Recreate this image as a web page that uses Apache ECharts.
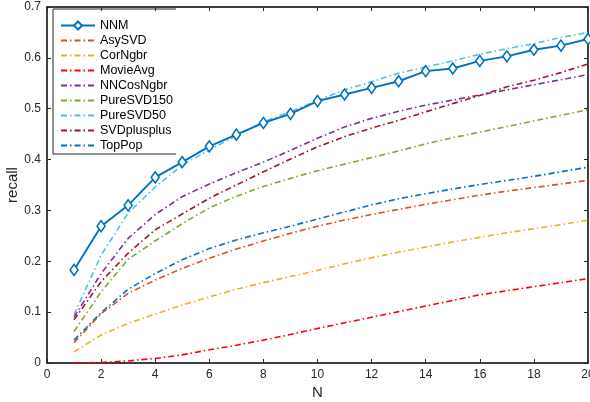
<!DOCTYPE html>
<html>
<head>
<meta charset="utf-8">
<script src="https://cdn.jsdelivr.net/npm/echarts@6/dist/echarts.min.js"></script>
<style>
  html, body { margin: 0; padding: 0; background: #fff; }
  #chart { width: 590px; height: 402px; }
</style>
</head>
<body>
<div id="chart"></div>
<script>
var N = [1, 2, 3, 4, 5, 6, 7, 8, 9, 10, 11, 12, 13, 14, 15, 16, 17, 18, 19, 20];

var nnm         = [0.183, 0.269, 0.310, 0.365, 0.395, 0.426, 0.449, 0.472, 0.490, 0.515, 0.528, 0.541, 0.554, 0.574, 0.579, 0.594, 0.603, 0.616, 0.624, 0.637];
var asySVD      = [0.040, 0.097, 0.137, 0.163, 0.186, 0.206, 0.224, 0.240, 0.255, 0.269, 0.281, 0.292, 0.302, 0.312, 0.321, 0.330, 0.338, 0.345, 0.352, 0.359];
var corNgbr     = [0.022, 0.055, 0.078, 0.096, 0.114, 0.130, 0.145, 0.158, 0.170, 0.182, 0.195, 0.207, 0.218, 0.228, 0.238, 0.247, 0.256, 0.264, 0.272, 0.281];
var movieAvg    = [0.000, 0.001, 0.004, 0.009, 0.016, 0.026, 0.035, 0.045, 0.056, 0.068, 0.079, 0.090, 0.101, 0.112, 0.123, 0.134, 0.142, 0.150, 0.158, 0.166];
var nnCosNgbr   = [0.090, 0.176, 0.245, 0.292, 0.327, 0.352, 0.374, 0.395, 0.418, 0.442, 0.464, 0.481, 0.495, 0.507, 0.517, 0.527, 0.537, 0.547, 0.557, 0.567];
var pureSVD150  = [0.062, 0.140, 0.204, 0.240, 0.274, 0.305, 0.328, 0.347, 0.363, 0.378, 0.391, 0.404, 0.417, 0.431, 0.443, 0.454, 0.465, 0.476, 0.487, 0.498];
var pureSVD50   = [0.095, 0.212, 0.295, 0.346, 0.389, 0.419, 0.447, 0.474, 0.494, 0.516, 0.537, 0.553, 0.570, 0.582, 0.594, 0.607, 0.618, 0.628, 0.640, 0.650];
var svdPlusPlus = [0.085, 0.160, 0.216, 0.262, 0.293, 0.324, 0.350, 0.376, 0.401, 0.425, 0.445, 0.462, 0.477, 0.494, 0.510, 0.526, 0.543, 0.556, 0.571, 0.588];
var topPop      = [0.045, 0.099, 0.145, 0.176, 0.203, 0.225, 0.242, 0.256, 0.269, 0.283, 0.297, 0.311, 0.323, 0.333, 0.342, 0.351, 0.359, 0.367, 0.376, 0.385];

var xTicks = [0, 2, 4, 6, 8, 10, 12, 14, 16, 18, 20];
var yTicks = [0, 0.1, 0.2, 0.3, 0.4, 0.5, 0.6, 0.7];

var names = ['NNM', 'AsySVD', 'CorNgbr', 'MovieAvg', 'NNCosNgbr', 'PureSVD150', 'PureSVD50', 'SVDplusplus', 'TopPop'];
var values = [nnm, asySVD, corNgbr, movieAvg, nnCosNgbr, pureSVD150, pureSVD50, svdPlusPlus, topPop];
var colors = ['#0072BD', '#D95319', '#EDB120', '#FF0000', '#7E2F8E', '#77AC30', '#4DBEEE', '#A2142F', '#0072BD'];

var dashDot = [6, 3, 1.5, 3];
var font = 'Liberation Sans, Arial, sans-serif';

function pairs(arr) {
  return N.map(function (n, i) { return [n, arr[i]]; });
}

var series = names.map(function (name, i) {
  var s = {
    name: name,
    type: 'line',
    data: pairs(values[i]),
    z: 10 - i,
    lineStyle: { color: colors[i], width: 1.6, type: dashDot },
    itemStyle: { color: colors[i] },
    showSymbol: false,
    symbol: 'none',
    animation: false
  };
  if (i == 0) {
    s.z = 20;
    s.showSymbol = true;
    s.symbol = 'diamond';
    s.symbolSize = [8, 11];
    s.lineStyle = { color: colors[0], width: 1.9, type: 'solid' };
    s.itemStyle = { color: '#fff', borderColor: colors[0], borderWidth: 1.6 };
  }
  return s;
});

// legend entries: only NNM keeps its marker
var legendData = names.map(function (name, i) {
  if (i == 0) return { name: name };
  return { name: name, itemStyle: { opacity: 0 } };
});

var axisCommon = {
  type: 'value',
  axisLine: { show: true, onZero: false, lineStyle: { color: '#000', width: 1.5 } },
  axisTick: { show: true, inside: true, length: 4, lineStyle: { color: '#262626' } },
  splitLine: { show: false }
};

var dom = document.getElementById('chart');
var myChart = echarts.init(dom, null, { renderer: 'canvas' });

option = {
  animation: false,
  backgroundColor: '#fff',
  textStyle: { fontFamily: font },
  grid: { left: 47, right: 2, top: 7, bottom: 39, containLabel: false, outerBoundsMode: 'none' },
  legend: {
    data: legendData,
    orient: 'vertical',
    left: 60,
    top: 19,
    padding: 0,
    itemWidth: 34,
    itemHeight: 10,
    itemGap: 2,
    textStyle: { fontSize: 12.5, color: '#000', fontFamily: font }
  },
  xAxis: [
    Object.assign({}, axisCommon, {
      min: xTicks[0], max: xTicks[xTicks.length - 1], interval: 2,
      name: 'N', nameLocation: 'middle', nameGap: 22, nameMoveOverlap: false,
      nameTextStyle: { fontSize: 15, color: '#262626', fontFamily: font },
      axisLabel: { fontSize: 12, color: '#262626', margin: 6, fontFamily: font }
    }),
    Object.assign({}, axisCommon, {
      position: 'top',
      min: xTicks[0], max: xTicks[xTicks.length - 1], interval: 2,
      axisLabel: { show: false }
    })
  ],
  yAxis: [
    Object.assign({}, axisCommon, {
      min: yTicks[0], max: yTicks[yTicks.length - 1], interval: 0.1,
      name: 'recall', nameLocation: 'middle', nameGap: 27, nameMoveOverlap: false,
      nameTextStyle: { fontSize: 15, color: '#262626', fontFamily: font },
      axisLabel: { fontSize: 12, color: '#262626', margin: 6, fontFamily: font }
    }),
    Object.assign({}, axisCommon, {
      position: 'right',
      min: yTicks[0], max: yTicks[yTicks.length - 1], interval: 0.1,
      axisLabel: { show: false }
    })
  ],
  graphic: [
    {
      type: 'polyline',
      shape: { points: [[176, 9], [53, 9], [53, 154], [176, 154]] },
      style: { stroke: '#262626', lineWidth: 1, fill: null },
      z: 0
    }
  ],
  series: series
};

if (option && typeof option === "object") {
  myChart.setOption(option, true);
}
</script>
</body>
</html>
